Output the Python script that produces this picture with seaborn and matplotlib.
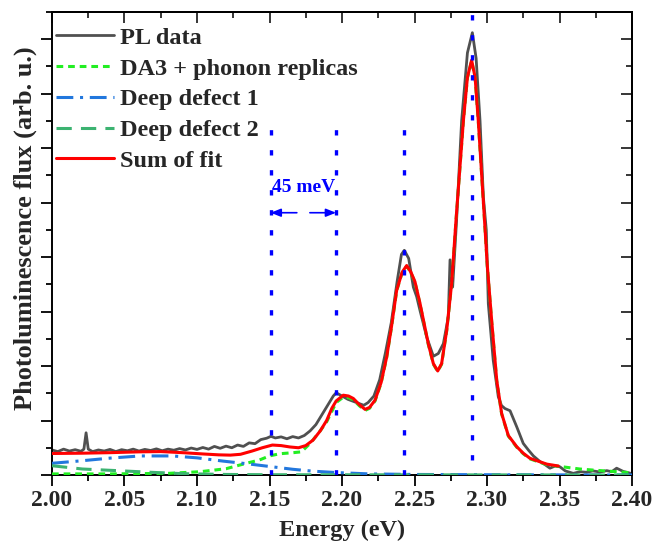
import matplotlib
matplotlib.use("Agg")
import matplotlib.pyplot as plt
import seaborn as sns
import numpy as np
import pandas as pd
from matplotlib.ticker import MultipleLocator, NullFormatter

# ---------------- data ----------------
pl_energy = [2.000, 2.004, 2.008, 2.012, 2.016, 2.020, 2.022, 2.0235, 2.025, 2.028,
             2.032, 2.036, 2.040, 2.044, 2.048, 2.052, 2.056, 2.060, 2.064, 2.068,
             2.072, 2.076, 2.080, 2.084, 2.088, 2.092, 2.096, 2.100, 2.104, 2.108,
             2.112, 2.116, 2.120, 2.124, 2.128, 2.132, 2.136, 2.140, 2.144, 2.148,
             2.151, 2.154, 2.158, 2.162, 2.166, 2.170, 2.174, 2.178, 2.182, 2.186,
             2.190, 2.194, 2.196, 2.200, 2.204, 2.208, 2.212, 2.215, 2.218, 2.222,
             2.226, 2.230, 2.234, 2.238, 2.241, 2.243, 2.246, 2.2492, 2.2515, 2.2538,
             2.2584, 2.263, 2.2664, 2.2699, 2.2733, 2.2745, 2.2763, 2.279, 2.2825, 2.2865,
             2.2899, 2.2925, 2.2952, 2.2975, 2.2995, 2.3009, 2.3043, 2.3078, 2.3100, 2.3124,
             2.3159, 2.3205, 2.325, 2.3285, 2.332, 2.3366, 2.340, 2.3434, 2.3470, 2.3503,
             2.354, 2.3595, 2.364, 2.3687, 2.373, 2.378, 2.3826, 2.386, 2.3894, 2.394,
             2.3986]
pl_flux = [0.92, 0.86, 0.95, 0.88, 0.93, 0.87, 0.95, 1.55, 0.95, 0.86,
           0.92, 0.88, 0.94, 0.86, 0.93, 0.89, 0.95, 0.88, 0.94, 0.90,
           0.96, 0.89, 0.95, 0.91, 0.97, 0.92, 0.99, 0.94, 1.01, 0.95,
           1.05, 0.98, 1.06, 1.00, 1.10, 1.05, 1.18, 1.15, 1.30, 1.35,
           1.42, 1.36, 1.40, 1.33, 1.41, 1.36, 1.45, 1.62, 1.85, 2.20,
           2.55, 2.90, 3.02, 2.90, 2.78, 2.70, 2.62, 2.56, 2.66, 2.90,
           3.50, 4.50, 5.60, 7.10, 8.10, 8.25, 7.95, 6.90, 6.55, 6.04,
           5.07, 4.36, 4.46, 4.82, 5.80, 7.90, 6.90, 9.34, 13.0, 15.5,
           16.24, 15.3, 13.0, 10.2, 9.0, 6.29, 4.21, 2.87, 2.55, 2.44,
           2.36, 1.77, 1.16, 0.92, 0.70, 0.49, 0.38, 0.25, 0.33, 0.30,
           0.15, 0.06, 0.12, 0.10, 0.15, 0.11, 0.16, 0.12, 0.25, 0.13,
           0.07]

fit_energy = [2.000, 2.020, 2.040, 2.060, 2.075, 2.090, 2.105, 2.115, 2.123, 2.130,
              2.138, 2.145, 2.152, 2.158, 2.164, 2.170, 2.175, 2.180, 2.185, 2.1894,
              2.193, 2.196, 2.2009, 2.2045, 2.2078, 2.212, 2.2159, 2.219, 2.2228, 2.227,
              2.2308, 2.234, 2.2377, 2.2415, 2.2446, 2.2475, 2.2503, 2.2538, 2.2595, 2.263,
              2.266, 2.2687, 2.2722, 2.2756, 2.2786, 2.2837, 2.2865, 2.2894, 2.2918, 2.294,
              2.298, 2.3002, 2.3032, 2.3067, 2.3101, 2.3147, 2.3205, 2.325, 2.3297, 2.3412,
              2.3492]
fit_sum = [0.79, 0.80, 0.82, 0.85, 0.86, 0.82, 0.77, 0.74, 0.73, 0.76,
           0.88, 1.00, 1.10, 1.08, 1.03, 1.00, 1.08, 1.28, 1.62, 2.00,
           2.45, 2.72, 2.93, 2.90, 2.81, 2.58, 2.41, 2.48, 2.75, 3.40,
           4.33, 5.40, 6.78, 7.45, 7.69, 7.45, 7.10, 6.30, 4.82, 4.09,
           3.82, 4.09, 5.31, 7.02, 9.34, 13.0, 14.6, 15.23, 14.6, 13.0,
           9.60, 7.70, 5.68, 3.48, 2.26, 1.45, 1.04, 0.80, 0.61, 0.40,
           0.33]

da3_energy = [2.000, 2.040, 2.080, 2.102, 2.120, 2.134, 2.143, 2.150, 2.157, 2.1664,
              2.172, 2.178, 2.184, 2.1894, 2.196, 2.2009, 2.2045, 2.2078, 2.212, 2.2159,
              2.219, 2.2228, 2.227, 2.2308, 2.234, 2.2377, 2.2415, 2.2446, 2.2475, 2.2503,
              2.2538, 2.2595, 2.263, 2.266, 2.2687, 2.2722, 2.2756, 2.2786, 2.2837, 2.2865,
              2.2894, 2.2918, 2.294, 2.298, 2.3002, 2.3032, 2.3067, 2.3101, 2.3147, 2.3205,
              2.325, 2.3297, 2.3412, 2.3492, 2.364, 2.3757, 2.387, 2.400]
da3_flux = [0.04, 0.04, 0.06, 0.12, 0.23, 0.43, 0.55, 0.70, 0.78, 0.82,
            0.85, 1.16, 1.55, 1.95, 2.66, 2.86, 2.84, 2.76, 2.54, 2.37,
            2.45, 2.72, 3.38, 4.31, 5.38, 6.76, 7.43, 7.67, 7.43, 7.08,
            6.28, 4.80, 4.07, 3.80, 4.07, 5.29, 7.00, 9.32, 12.98, 14.58,
            15.21, 14.58, 12.98, 9.58, 7.68, 5.66, 3.46, 2.24, 1.43, 1.02,
            0.78, 0.59, 0.38, 0.32, 0.22, 0.17, 0.13, 0.08]

dd1_energy = [2.000, 2.020, 2.040, 2.061, 2.083, 2.100, 2.118, 2.135, 2.152, 2.166,
              2.180, 2.196, 2.219, 2.250, 2.300, 2.400]
dd1_flux = [0.43, 0.52, 0.62, 0.70, 0.70, 0.63, 0.51, 0.41, 0.30, 0.21,
            0.14, 0.09, 0.04, 0.02, 0.01, 0.00]

dd2_energy = [2.000, 2.021, 2.045, 2.068, 2.090, 2.120, 2.150, 2.400]
dd2_flux = [0.34, 0.22, 0.16, 0.10, 0.05, 0.02, 0.01, 0.00]

peak_lines_x = [2.1508, 2.1959, 2.2428, 2.2899]
peak_lines_ymin = [0.0, 0.0, 0.0, 0.55]
peak_lines_ymax = [13.1, 13.1, 13.1, 17.0]

arrow_y = 9.63
label_y = 10.55
splitting_label = "45 meV"

x_ticks = [2.00, 2.05, 2.10, 2.15, 2.20, 2.25, 2.30, 2.35, 2.40]

# ---------------- style ----------------
sns.set_theme(style="white")
plt.rcParams['font.family'] = ['Liberation Serif', 'DejaVu Serif']
plt.rcParams['font.weight'] = 'bold'
plt.rcParams['axes.labelweight'] = 'bold'

fig = plt.figure(figsize=(6.56, 5.46), dpi=100)
ax = fig.add_axes([52 / 656, 71 / 546, 580 / 656, 463 / 546])

lw = 2.2
sns.lineplot(x=pl_energy, y=pl_flux, ax=ax, color="#505050", lw=2.0,
             label="PL data", sort=False, zorder=2)
sns.lineplot(x=da3_energy, y=da3_flux, ax=ax, color="#22ee22", lw=lw,
             linestyle=(0, (2.2, 1.6)), label="DA3 + phonon replicas", zorder=3)
sns.lineplot(x=dd1_energy, y=dd1_flux, ax=ax, color="#2277dd", lw=lw,
             linestyle=(0, (5.5, 2.2, 1.0, 2.2)), label="Deep defect 1", zorder=3)
sns.lineplot(x=dd2_energy, y=dd2_flux, ax=ax, color="#3cb371", lw=lw,
             linestyle=(0, (5.0, 3.0)), label="Deep defect 2", zorder=3)
sns.lineplot(x=fit_energy, y=fit_sum, ax=ax, color="#ff0000", lw=lw,
             label="Sum of fit", zorder=4)

ax.vlines(peak_lines_x, peak_lines_ymin, peak_lines_ymax, colors="#0000ff",
          linestyles=[(0, (1.6, 4.4))], lw=2.4, zorder=6)

# 45 meV splitting arrows
mid = (peak_lines_x[0] + peak_lines_x[1]) / 2
ax.annotate("", xy=(peak_lines_x[0], arrow_y), xytext=(mid - 0.0045, arrow_y),
            arrowprops=dict(arrowstyle="-|>,head_length=0.5,head_width=0.2",
                            color="#0000ff", lw=1.2, shrinkA=0, shrinkB=0), zorder=6)
ax.annotate("", xy=(peak_lines_x[1], arrow_y), xytext=(mid + 0.0045, arrow_y),
            arrowprops=dict(arrowstyle="-|>,head_length=0.5,head_width=0.2",
                            color="#0000ff", lw=1.2, shrinkA=0, shrinkB=0), zorder=6)
ax.text(mid, label_y, splitting_label, color="#0000ff", fontsize=14,
        fontweight="bold", ha="center", va="center", zorder=6)

ax.set_xlim(2.0, 2.4)
ax.set_ylim(0, 17)
ax.set_xticks(x_ticks)
ax.set_xticklabels([f"{t:.2f}" for t in x_ticks])
ax.xaxis.set_minor_locator(MultipleLocator(0.025))
ax.yaxis.set_major_locator(MultipleLocator(2))
ax.yaxis.set_minor_locator(MultipleLocator(1))
ax.yaxis.set_major_formatter(NullFormatter())
ax.tick_params(axis="both", which="both", bottom=True, left=True, top=False, right=False)
ax.tick_params(axis="both", which="major", direction="out", length=8, width=1.3,
               color="black", pad=3)
ax.tick_params(axis="both", which="minor", direction="out", length=4, width=1.3,
               color="black")
ax.tick_params(axis="x", labelsize=17)
for lab in ax.get_xticklabels():
    lab.set_fontweight("bold")

# mirrored inward ticks on top and right
top = ax.secondary_xaxis("top")
top.set_xticks(x_ticks)
top.xaxis.set_minor_locator(MultipleLocator(0.025))
top.tick_params(which="both", top=True)
top.tick_params(which="major", direction="in", length=8, width=1.3, labeltop=False)
top.tick_params(which="minor", direction="in", length=4, width=1.3)
right = ax.secondary_yaxis("right")
right.yaxis.set_major_locator(MultipleLocator(2))
right.yaxis.set_minor_locator(MultipleLocator(1))
right.tick_params(which="both", right=True)
right.tick_params(which="major", direction="in", length=8, width=1.3, labelright=False)
right.tick_params(which="minor", direction="in", length=4, width=1.3)
for sp in list(ax.spines.values()) + [top.spines["top"], right.spines["right"]]:
    sp.set_linewidth(1.4)
    sp.set_color("black")

ax.set_xlabel("Energy (eV)", fontsize=17.5, fontweight="bold", labelpad=6)
ax.set_ylabel("Photoluminescence flux (arb. u.)", fontsize=19, fontweight="bold")
ax.yaxis.set_label_coords(-0.026, 0.533)

leg = ax.legend(loc="upper left", bbox_to_anchor=(-0.004, 0.981), frameon=False,
                fontsize=17.5, handlelength=2.4, handletextpad=0.25,
                labelspacing=0.36, borderaxespad=0.0, borderpad=0.25)
for t in leg.get_texts():
    t.set_fontweight("bold")

fig.savefig("out.png", dpi=100)
